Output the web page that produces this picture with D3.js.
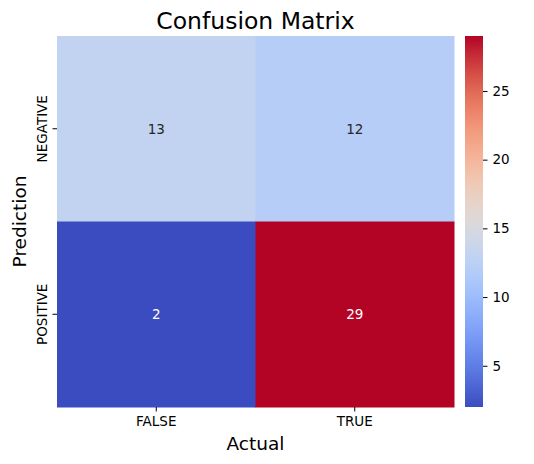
<!DOCTYPE html>
<html><head><meta charset="utf-8">
<script src="https://cdn.jsdelivr.net/npm/d3@7"></script>
<style>body{margin:0;background:#fff}text{font-family:"DejaVu Sans",sans-serif}</style>
</head><body>
<script>
const actual = ['FALSE', 'TRUE']
const prediction = ['NEGATIVE', 'POSITIVE']
const values = [[13, 12], [2, 29]]
const cbTicks = [5, 10, 15, 20, 25]
const coolwarm = ['#3b4cc0', '#5b7ae5', '#7b9ff9', '#9ebeff', '#c0d4f5', '#dddcdc', '#f2cbb7', '#f7ac8e', '#ee8468', '#d65244', '#b40426']

const W = 534, H = 464
const m = { l: 57, t: 36, r: 454, b: 407 }
const svg = d3.select('body').append('svg').attr('width', W).attr('height', H)

const x = d3.scaleBand().domain(actual).range([m.l, m.r])
const y = d3.scaleBand().domain(prediction).range([m.t, m.b])
const flat = values.flat()
const vmin = d3.min(flat), vmax = d3.max(flat)
const color = d3.scaleSequential(d3.interpolateRgbBasis(coolwarm)).domain([vmin, vmax])

function lum (c) {
  const r = d3.rgb(c)
  const f = v => { v /= 255; return v <= 0.03928 ? v / 12.92 : Math.pow((v + 0.055) / 1.055, 2.4) }
  return 0.2126 * f(r.r) + 0.7152 * f(r.g) + 0.0722 * f(r.b)
}

prediction.forEach((p, i) => {
  actual.forEach((a, j) => {
    const v = values[i][j]
    svg.append('rect').attr('x', x(a)).attr('y', y(p))
      .attr('width', x.bandwidth() + 0.5).attr('height', y.bandwidth() + 0.5).attr('fill', color(v))
    svg.append('text').attr('x', x(a) + x.bandwidth() / 2).attr('y', y(p) + y.bandwidth() / 2)
      .attr('text-anchor', 'middle').attr('dominant-baseline', 'central')
      .attr('font-size', 13.5).attr('fill', lum(color(v)) > 0.408 ? '#262626' : '#fff').text(v)
  })
})

const tickFont = g => g.selectAll('.tick text').attr('font-size', 13.5).attr('font-family', 'DejaVu Sans').attr('fill', '#000')

svg.append('g').attr('transform', `translate(0,${m.b})`)
  .call(d3.axisBottom(x).tickSizeOuter(0).tickSize(4.5).tickPadding(5))
  .call(g => g.select('.domain').remove())
  .call(tickFont)

const yAxis = svg.append('g').attr('transform', `translate(${m.l},0)`)
  .call(d3.axisLeft(y).tickSizeOuter(0).tickSize(4.5))
yAxis.select('.domain').remove()
yAxis.call(tickFont)
yAxis.selectAll('.tick text')
  .attr('x', 0).attr('y', -10).attr('dy', 0)
  .attr('text-anchor', 'middle')
  .attr('transform', 'rotate(-90)')

// colorbar
const cbx = 465, cbw = 18
const cy = d3.scaleLinear().domain([vmin, vmax]).range([m.b, m.t])
const grad = svg.append('defs').append('linearGradient').attr('id', 'cb').attr('x1', 0).attr('y1', 1).attr('x2', 0).attr('y2', 0)
d3.range(0, 1.0001, 0.05).forEach(t => grad.append('stop').attr('offset', t).attr('stop-color', color(vmin + t * (vmax - vmin))))
svg.append('rect').attr('x', cbx).attr('y', m.t).attr('width', cbw).attr('height', m.b - m.t).attr('fill', 'url(#cb)')
svg.append('g').attr('transform', `translate(${cbx + cbw},0)`)
  .call(d3.axisRight(cy).tickValues(cbTicks).tickSize(4.5).tickPadding(5))
  .call(g => g.select('.domain').remove())
  .call(tickFont)

svg.append('text').attr('x', (m.l + m.r) / 2).attr('y', 29).attr('text-anchor', 'middle').attr('font-size', 23.5).text('Confusion Matrix')
svg.append('text').attr('x', (m.l + m.r) / 2).attr('y', 450).attr('text-anchor', 'middle').attr('font-size', 18.5).text('Actual')
svg.append('text').attr('transform', `translate(26,${(m.t + m.b) / 2}) rotate(-90)`).attr('text-anchor', 'middle').attr('font-size', 18.5).text('Prediction')
</script>
</body></html>
